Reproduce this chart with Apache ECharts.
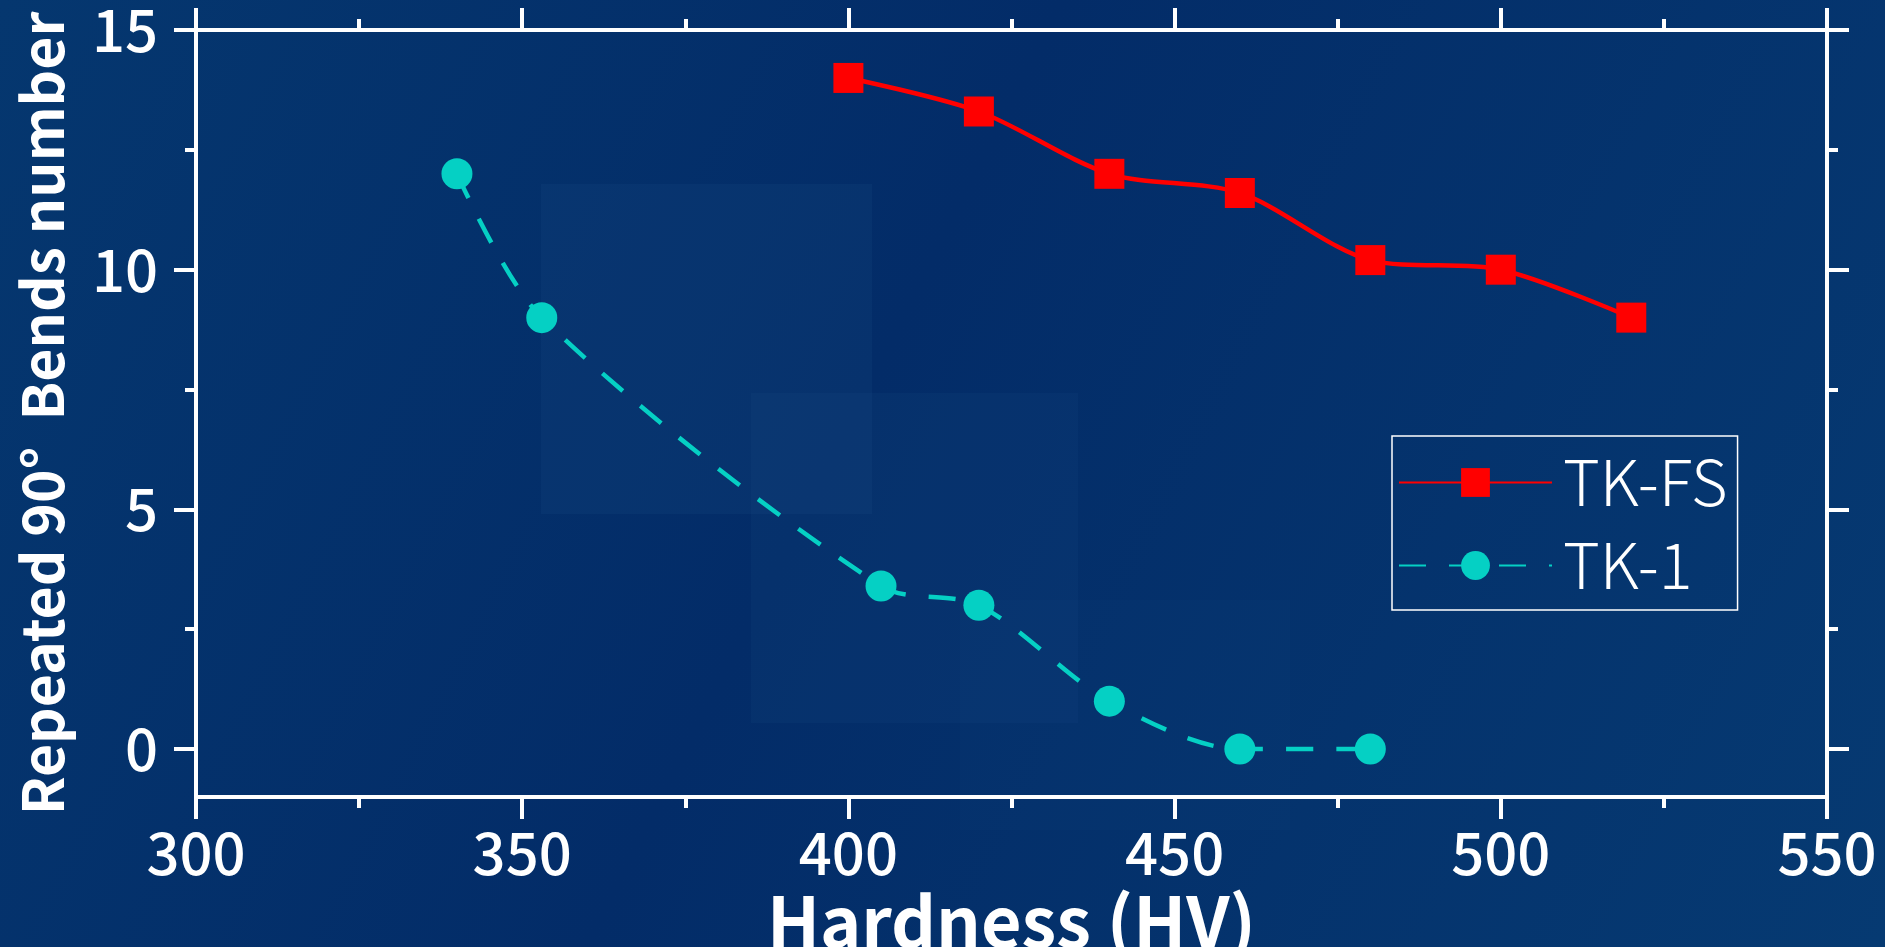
<!DOCTYPE html>
<html>
<head>
<meta charset="utf-8">
<title>Hardness vs repeated bends</title>
<script src="https://cdn.jsdelivr.net/npm/echarts@6/dist/echarts.min.js"></script>
<style>
  html, body { margin: 0; padding: 0; width: 100%; height: 100%; overflow: hidden; background: #03306a; }
  #chart { width: 1885px; height: 947px; }
</style>
</head>
<body>
<div id="chart"></div>
<script>
// Hardness (HV) against number of repeated 90° bends
const seriesNames = ['TK-FS', 'TK-1'];
const tkfsHardness = [400, 420, 440, 460, 480, 500, 520];
const tkfsBends    = [14.0, 13.3, 12.0, 11.6, 10.2, 10.0, 9.0];
const tk1Hardness  = [340, 353, 405, 420, 440, 460, 480];
const tk1Bends     = [12.0, 9.0, 3.4, 3.0, 1.0, 0.0, 0.0];
const xTicks = [300, 350, 400, 450, 500, 550];
const yTicks = [0, 5, 10, 15];
const yMinorTicks = [2.5, 7.5, 12.5];

const pairs = (xs, ys) => xs.map((x, i) => [x, ys[i]]);

const WHITE = '#ffffff';
const FONT = '"Noto Sans CJK JP", "Noto Sans", sans-serif';

const axisLine = { show: true, onZero: false, lineStyle: { color: WHITE, width: 4 } };
const majorTick = { show: true, inside: false, length: 22, lineStyle: { color: WHITE, width: 4 } };
const minorTick = { show: true, splitNumber: 2, length: 11, lineStyle: { color: WHITE, width: 4 } };

const chart = echarts.init(document.getElementById('chart'), null, { renderer: 'canvas' });

chart.setOption({
  backgroundColor: {
    type: 'linear', x: 0, y: 0, x2: 1, y2: 1,
    colorStops: [
      { offset: 0, color: '#05376f' },
      { offset: 0.45, color: '#032c68' },
      { offset: 1, color: '#063a72' }
    ]
  },
  animation: false,
  graphic: [
    { type: 'rect', z: -10, silent: true, shape: { x: 541, y: 184, width: 331, height: 330 }, style: { fill: 'rgba(40,90,150,0.13)' } },
    { type: 'rect', z: -10, silent: true, shape: { x: 751, y: 393, width: 327, height: 330 }, style: { fill: 'rgba(40,90,150,0.11)' } },
    { type: 'rect', z: -10, silent: true, shape: { x: 960, y: 600, width: 330, height: 230 }, style: { fill: 'rgba(40,90,150,0.06)' } }
  ],
  grid: { left: 196, right: 58, top: 30, bottom: 150, containLabel: false, outerBoundsMode: 'none' },
  legend: {
    orient: 'vertical',
    left: 1392,
    top: 436,
    padding: [15, 10, 13, 6],
    itemWidth: 153,
    itemHeight: 36,
    itemGap: 20,
    borderColor: WHITE,
    borderWidth: 1.5,
    textStyle: { color: WHITE, fontSize: 63, lineHeight: 62, fontFamily: FONT, fontWeight: 300, padding: [0, 0, 0, 6] },
    data: seriesNames
  },
  xAxis: [
    {
      type: 'value', position: 'bottom', min: 300, max: 550, interval: 50,
      name: 'Hardness (HV)', nameLocation: 'middle', nameGap: 66,
      nameTextStyle: { color: WHITE, fontSize: 70, fontWeight: 'bold', fontFamily: FONT },
      axisLine, axisTick: majorTick, minorTick,
      axisLabel: { color: WHITE, fontSize: 58, fontWeight: 500, fontFamily: FONT, margin: 27,
                   formatter: v => xTicks.includes(v) ? String(v) : '' },
      splitLine: { show: false }
    },
    {
      type: 'value', position: 'top', min: 300, max: 550, interval: 50,
      axisLine, axisTick: majorTick, minorTick,
      axisLabel: { show: false }, splitLine: { show: false }
    }
  ],
  yAxis: [
    {
      type: 'value', position: 'left', min: -1, max: 15,
      name: 'Repeated 90°  Bends number', nameLocation: 'middle', nameGap: 125, nameRotate: 90,
      nameTextStyle: { color: WHITE, fontSize: 57, fontWeight: 'bold', fontFamily: FONT },
      axisLine,
      axisTick: Object.assign({}, majorTick, { customValues: yTicks }),
      minorTick: { show: false },
      axisLabel: { color: WHITE, fontSize: 58, fontWeight: 500, fontFamily: FONT, margin: 38, customValues: yTicks },
      splitLine: { show: false }
    },
    {
      type: 'value', position: 'right', min: -1, max: 15,
      axisLine,
      axisTick: Object.assign({}, majorTick, { customValues: yTicks }),
      axisLabel: { show: false }, splitLine: { show: false }
    },
    {
      // half-step ticks on the left edge
      type: 'value', position: 'left', min: -1, max: 15,
      axisLine: { show: false },
      axisTick: { show: true, length: 11, lineStyle: { color: WHITE, width: 4 }, customValues: yMinorTicks },
      axisLabel: { show: false }, splitLine: { show: false }
    },
    {
      // half-step ticks on the right edge
      type: 'value', position: 'right', min: -1, max: 15,
      axisLine: { show: false },
      axisTick: { show: true, length: 11, lineStyle: { color: WHITE, width: 4 }, customValues: yMinorTicks },
      axisLabel: { show: false }, splitLine: { show: false }
    }
  ],
  series: [
    {
      name: seriesNames[0], type: 'line', xAxisIndex: 0, yAxisIndex: 0,
      data: pairs(tkfsHardness, tkfsBends),
      smooth: 0.3,
      symbol: 'rect', symbolSize: 30,
      itemStyle: { color: '#ff0000' },
      lineStyle: { color: '#ff0000', width: 4.5 },
      z: 3
    },
    {
      name: seriesNames[1], type: 'line', xAxisIndex: 0, yAxisIndex: 0,
      data: pairs(tk1Hardness, tk1Bends),
      smooth: 0.3,
      symbol: 'circle', symbolSize: 31,
      itemStyle: { color: '#05d0c4' },
      lineStyle: { color: '#05d0c4', width: 4.5, type: [27, 23] },
      z: 2
    }
  ]
});
</script>
</body>
</html>
